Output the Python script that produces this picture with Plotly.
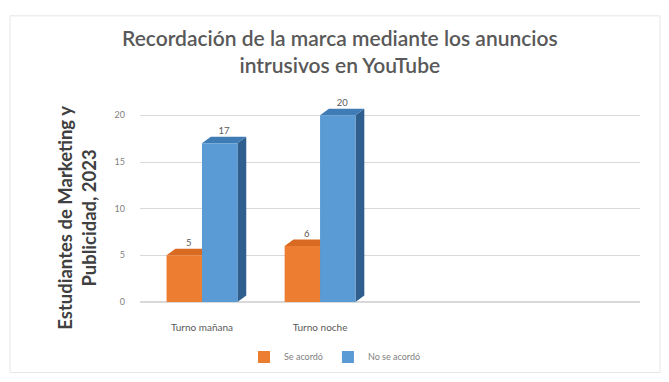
import plotly.graph_objects as go

categories = ["Turno mañana", "Turno noche"]
se_acordo = [5, 6]
no_se_acordo = [17, 20]
y_ticks = [0, 5, 10, 15, 20]

series = [
    ("Se acordó", se_acordo, "#ED7D31", "#B85A1C", "#D96A22"),
    ("No se acordó", no_se_acordo, "#5B9BD5", "#2F5F8F", "#3F7BB5"),
]

pos = list(range(len(categories)))
bar_w = 0.3
depth_x = 0.075
depth_y = 0.7

fig = go.Figure()
shapes = [dict(type="rect", xref="paper", yref="paper", x0=-0.26, x1=1.04, y0=-0.36, y1=1.46,
               line=dict(color="#E6E6E6", width=1), layer="below")]

for s, (name, vals, col, side_col, top_col) in enumerate(series):
    off = -bar_w if s == 0 else 0.0
    fig.add_trace(go.Bar(
        x=pos, y=vals, name=name, width=bar_w, offset=off,
        marker=dict(color=col, line=dict(width=0)),
    ))
    for i, v in zip(pos, vals):
        xl = i + off
        xr = xl + bar_w
        shapes.append(dict(
            type="path", xref="x", yref="y", layer="between",
            path=f"M {xr},0 L {xr+depth_x},{depth_y} L {xr+depth_x},{v+depth_y} L {xr},{v} Z",
            fillcolor=side_col, line=dict(width=0)))
        shapes.append(dict(
            type="path", xref="x", yref="y", layer="between",
            path=f"M {xl},{v} L {xl+depth_x},{v+depth_y} L {xr+depth_x},{v+depth_y} L {xr},{v} Z",
            fillcolor=top_col, line=dict(width=0)))
    fig.add_trace(go.Scatter(
        x=[i + off + bar_w / 2 + depth_x / 2 for i in pos],
        y=[v + depth_y for v in vals],
        mode="text", text=[str(v) for v in vals], textposition="top center",
        textfont=dict(size=9.5, color="#595959"), showlegend=False, hoverinfo="skip",
        cliponaxis=False,
    ))

fig.update_layout(
    width=669, height=382,
    paper_bgcolor="white", plot_bgcolor="white",
    margin=dict(l=140, r=29, t=106, b=79),
    barmode="overlay",
    font=dict(family="Lato, Open Sans, sans-serif", color="#595959"),
    title=dict(
        text="Recordación de la marca mediante los anuncios<br>intrusivos en YouTube",
        x=0.508, xanchor="center", y=0.88, yanchor="top",
        font=dict(size=21, color="#595959", family="Lato, Open Sans, sans-serif", weight=600),
    ),
    xaxis=dict(
        range=[-0.525, 3.71], showgrid=False, showline=False, zeroline=False,
        tickvals=pos, ticktext=categories,
        tickfont=dict(size=10, color="#595959"), ticks="", ticklabelstandoff=18,
    ),
    yaxis=dict(
        range=[0, 21], tickvals=y_ticks, showgrid=True, gridcolor="#D9D9D9",
        gridwidth=1, zeroline=True, zerolinecolor="#D9D9D9", showline=False,
        tickfont=dict(size=9, color="#7F7F7F"), ticklabelstandoff=14,
    ),
    annotations=[dict(
        text="<b>Estudiantes de Marketing y<br>Publicidad, 2023</b>",
        xref="paper", yref="paper", x=-0.126, y=0.43, xanchor="center", yanchor="middle",
        textangle=-90, showarrow=False,
        font=dict(size=18.5, color="#404040", family="Lato, Open Sans, sans-serif"),
    )],
    legend=dict(
        orientation="h", x=0.39, xanchor="center", y=-0.2, yanchor="top",
        font=dict(size=9, color="#7F7F7F"), itemwidth=30,
    ),
    shapes=shapes,
)

fig.write_html("out.html")
